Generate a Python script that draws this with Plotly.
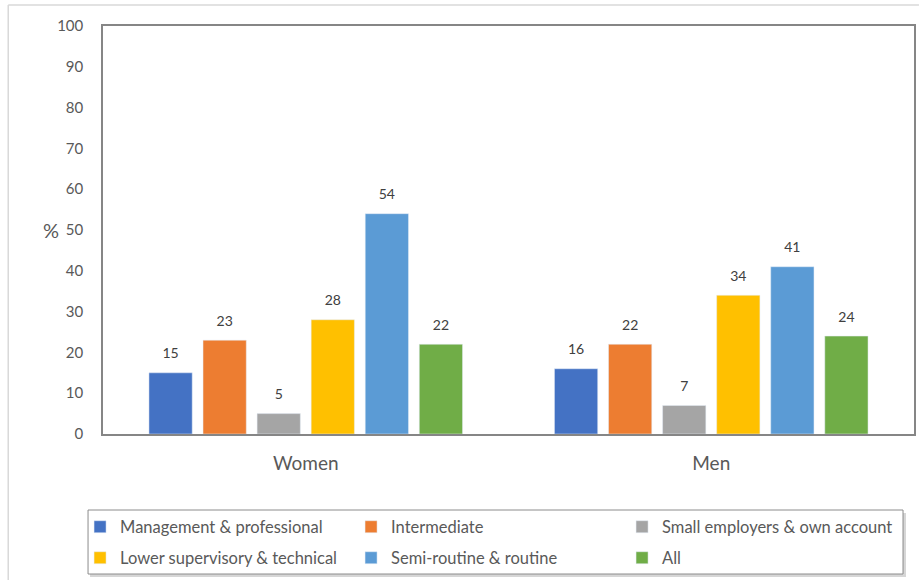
import plotly.graph_objects as go

categories = ["Women", "Men"]
series_names = [
    "Management & professional",
    "Intermediate",
    "Small employers & own account",
    "Lower supervisory & technical",
    "Semi-routine & routine",
    "All",
]
values = [
    [15, 16],
    [23, 22],
    [5, 7],
    [28, 34],
    [54, 41],
    [22, 24],
]
colors = ["#4472C4", "#ED7D31", "#A5A5A5", "#FFC000", "#5B9BD5", "#70AD47"]
y_ticks = list(range(0, 101, 10))

FONT = "Lato, Carlito, Calibri, sans-serif"
GREY = "#595959"

L, R, T, B = 103, 5, 26, 146
W, H = 921, 580
pw, ph = W - L - R, H - T - B


def px(x):
    return (x - L) / pw


def py(y):
    return (H - B - y) / ph


fig = go.Figure()
for i, (name, vals, col) in enumerate(zip(series_names, values, colors)):
    fig.add_trace(go.Bar(
        name=name, x=categories, y=vals, marker_color=col,
        offsetgroup=str(i), alignmentgroup="a",
        legend="legend" if i < 3 else "legend2",
    ))
for i, vals in enumerate(values):
    fig.add_trace(go.Scatter(
        x=categories, y=vals, mode="markers+text", text=[str(v) for v in vals],
        textposition="top center",
        textfont=dict(family=FONT, size=14, color="#404040"),
        marker=dict(size=16, color="rgba(0,0,0,0)"),
        offsetgroup=str(i), alignmentgroup="a",
        showlegend=False, hoverinfo="skip", cliponaxis=False,
    ))

legend_common = dict(
    orientation="h", xanchor="left", yanchor="middle",
    entrywidth=226, entrywidthmode="pixels",
    borderwidth=0, bgcolor="rgba(0,0,0,0)",
    font=dict(family=FONT, size=16.5, color=GREY),
)

fig.update_layout(
    width=W, height=H,
    margin=dict(l=L, r=R, t=T, b=B),
    paper_bgcolor="white", plot_bgcolor="white",
    font=dict(family=FONT, color=GREY),
    barmode="group", bargap=0.2, bargroupgap=0.2,
    scattermode="group", scattergap=0.2,
    showlegend=True,
    legend=dict(x=px(80), y=py(527), **legend_common),
    legend2=dict(x=px(80), y=py(558), **legend_common),
    xaxis=dict(
        showline=True, linecolor="#868686", linewidth=1.5, mirror=True,
        showgrid=False, ticks="", tickfont=dict(size=19, color=GREY),
        ticklabelstandoff=11,
    ),
    yaxis=dict(
        range=[0, 100], tickvals=y_ticks, showgrid=False,
        showline=True, linecolor="#868686", linewidth=1.5, mirror=True,
        ticks="", tickfont=dict(size=15, color=GREY), ticklabelstandoff=15,
        zeroline=False,
    ),
    annotations=[dict(
        text="%", x=px(41), y=py(230), xref="paper", yref="paper",
        showarrow=False, font=dict(size=20, color=GREY),
    )],
    shapes=[
        dict(type="line", xref="paper", yref="paper", x0=px(8), x1=px(921),
             y0=py(5), y1=py(5), line=dict(color="#d9d9d9", width=1.5)),
        dict(type="line", xref="paper", yref="paper", x0=px(8), x1=px(8),
             y0=py(5), y1=py(580), line=dict(color="#d9d9d9", width=1.5)),
        # legend frame shadow and frame
        dict(type="rect", xref="paper", yref="paper", x0=px(90), x1=px(908),
             y0=py(513), y1=py(577), fillcolor="#d6d6d6", line=dict(width=0),
             layer="below"),
        dict(type="rect", xref="paper", yref="paper", x0=px(88), x1=px(905),
             y0=py(510), y1=py(574), fillcolor="white",
             line=dict(color="#8c8c8c", width=1), layer="below"),
    ],
)

fig.write_html(
    "out.html",
    config={"displayModeBar": False},
    post_script="document.body.style.margin='0';",
)
